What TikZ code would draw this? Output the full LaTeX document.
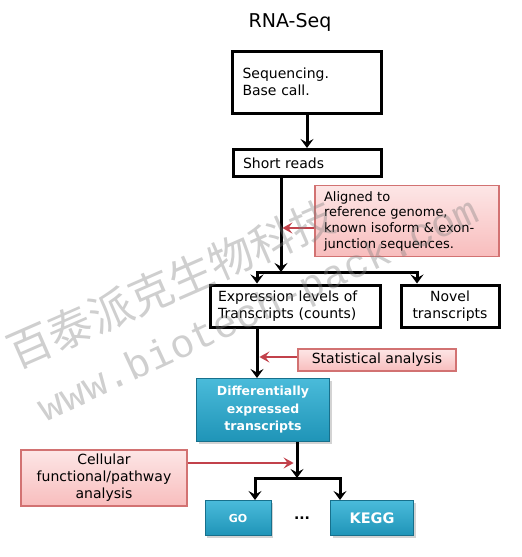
\documentclass[tikz,border=0pt]{standalone}
\usepackage{fontspec}
\setmainfont{DejaVu Sans}
\newfontfamily\cjkfont{Noto Sans CJK SC}
\newfontfamily\urlfont{Liberation Mono}
\usetikzlibrary{arrows.meta,positioning,shadows}
\usepackage{color}
\definecolor{pinkline}{HTML}{D27272}
\definecolor{pinktop}{HTML}{FDE6E6}
\definecolor{pinkbot}{HTML}{F8BDBD}
\definecolor{redline}{HTML}{C2414B}
\definecolor{tealline}{HTML}{17708C}
\definecolor{tealtop}{HTML}{4ABBDA}
\definecolor{tealbot}{HTML}{1F94B7}

\begin{document}
\begin{tikzpicture}[x=1pt,y=-1pt,>={Stealth[length=9pt,width=13pt,inset=3.5pt]},on grid,node distance=80pt]
  \useasboundingbox (0,0) rectangle (522,557);
\tikzset{blackbox/.style={draw,line width=3pt,fill=white,inner xsep=10pt,inner ysep=0pt,font=\fontsize{14}{17}\selectfont}}
\tikzset{pinkbox/.style={draw=pinkline,line width=1.2pt,top color=pinktop,bottom color=pinkbot,inner xsep=9pt,inner ysep=0pt,font=\fontsize{13}{15.7}\selectfont}}
\tikzset{tealbox/.style={draw=tealline,line width=1pt,top color=tealtop,bottom color=tealbot,text=white,inner sep=0pt,drop shadow={opacity=.35,shadow xshift=2pt,shadow yshift=-2pt}}}
  \node                 (title) at (290,22)                      {\fontsize{19}{19}\selectfont RNA-Seq};
  \node[blackbox,text width=129pt,minimum height=62pt,align=left] (seq) at (307,82) {Sequencing.\\Base call.};
  \node[blackbox,text width=128pt,minimum height=27pt,align=left] (short) [below=81pt of seq] {Short reads};
  \node[pinkbox,text width=166pt,minimum height=71pt,align=left] (aligned) [below right=58pt and 100pt of short] {Aligned to\\reference genome,\\known isoform \& exon-\\junction sequences.};
  \node[blackbox,inner xsep=8pt,text width=154pt,minimum height=42pt,align=left] (expr) [below left=143pt and 12pt of short] {Expression levels of\\Transcripts (counts)};
  \node[blackbox,inner xsep=9pt,text width=80pt,minimum height=42pt,align=center] (novel) [right=155pt of expr] {Novel\\transcripts};
  \node[pinkbox,minimum width=158pt,minimum height=22pt,font=\fontsize{14}{17}\selectfont] (stat) [below right=54pt and 82pt of expr] {Statistical analysis};
  \node[tealbox,minimum width=133pt,minimum height=63pt,align=center,font=\bfseries\fontsize{12.5}{17.5}\selectfont] (diff) [below left=104pt and 32pt of expr] {Differentially\\expressed\\transcripts};
  \node[tealbox,minimum width=66pt,minimum height=35pt,font=\bfseries\fontsize{11}{11}\selectfont] (go) [below left=108pt and 25pt of diff] {GO};
  \node[tealbox,minimum width=83pt,minimum height=35pt,font=\bfseries\fontsize{14.5}{14.5}\selectfont] (kegg) [right=134pt of go] {KEGG};
  \node[font=\bfseries\fontsize{14}{14}\selectfont] (dots) [right=64pt of go] {...};
  \node[pinkbox,minimum width=166pt,minimum height=56pt,align=center,font=\fontsize{14}{17}\selectfont] (cell) [above left=40pt and 134pt of go] {Cellular\\functional/pathway\\analysis};
  \coordinate (split1) at (281,272);
  \coordinate (split2) at (297,478);
\tikzset{blackarrow/.style={->,line width=3pt}}
\tikzset{redarrow/.style={-{Stealth[length=10pt,width=11pt,inset=4pt]},line width=2.5pt,draw=redline}}
\path
      (seq)   edge [blackarrow]  (short);
  \draw[blackarrow] (short.south -| split1) -- (split1);
  \draw[blackarrow,<->] ([xshift=-38pt]expr.north) |- (split1) -| ([xshift=-33pt]novel.north);
  \draw[blackarrow] ([xshift=-38pt]expr.south) -- ([xshift=-38pt]expr.south |- diff.north);
  \draw[blackarrow] ([xshift=34pt]diff.south) -- (split2);
  \draw[blackarrow,<->] ([xshift=17pt]go.north) |- (split2) -| ([xshift=-32pt]kegg.north);
  \draw[redarrow] ([yshift=-7pt]aligned.west) -- +(-32,0);
  \draw[redarrow] ([yshift=3pt]stat.west) -- +(-38,0);
  \draw[redarrow] ([yshift=15pt]cell.east) -- +(106,0);
  % watermark
  \node[rotate=23.6,text=gray,opacity=.38,font=\cjkfont\fontsize{44}{44}\selectfont] (wmcn) at (171,284) {百泰派克生物科技};
  \node[rotate=24.8,text=gray,opacity=.38,font=\urlfont\fontsize{40}{40}\selectfont] (wmurl) at (259,312) {www.biotech-pack.com};
\end{tikzpicture}
\end{document}
